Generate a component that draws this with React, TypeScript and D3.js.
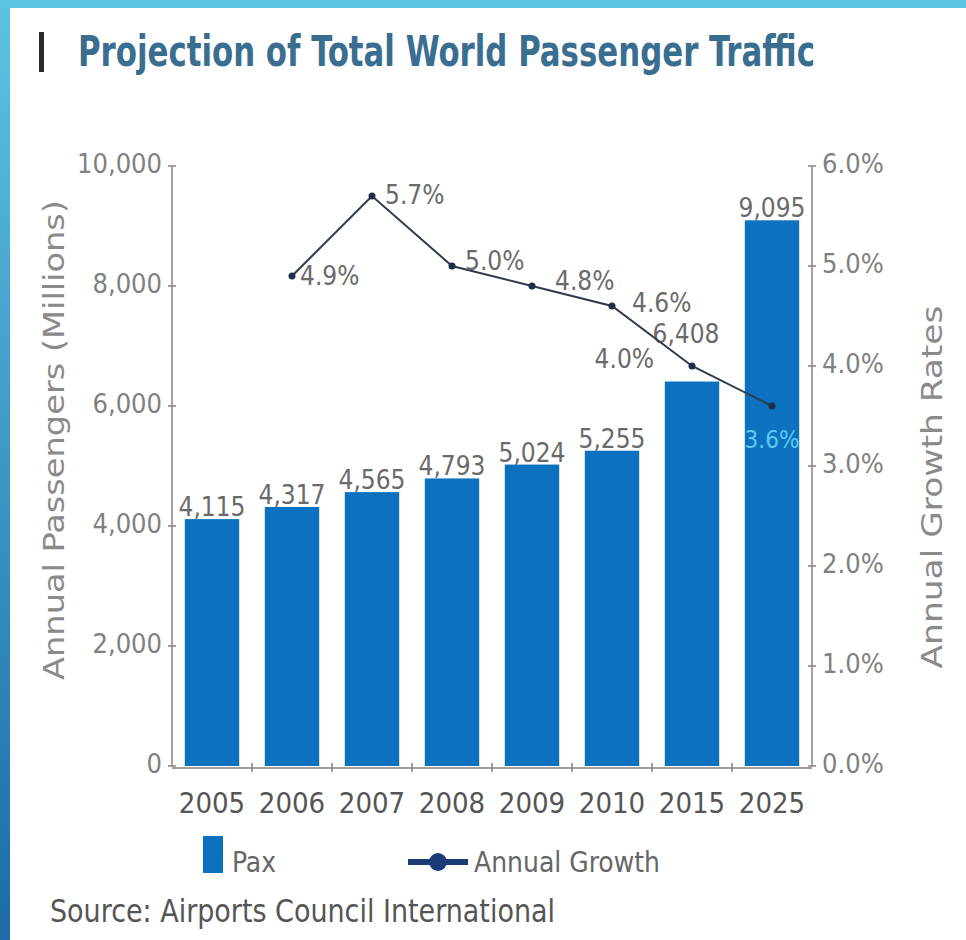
import React from "react"
import * as d3 from "d3"

const years = ["2005", "2006", "2007", "2008", "2009", "2010", "2015", "2025"]
const pax = [4115, 4317, 4565, 4793, 5024, 5255, 6408, 9095]
const growth: (number | null)[] = [null, 4.9, 5.7, 5.0, 4.8, 4.6, 4.0, 3.6]
const paxTicks = [0, 2000, 4000, 6000, 8000, 10000]
const growthTicks = [0, 1, 2, 3, 4, 5, 6]

// label nudges (layout only)
const paxLabelShift: Record<string, [number, number]> = { "2015": [-6, -36] }
const growthLabelShift: [number, number, string][] = [
  [0, 0, "start"],
  [8, 9, "start"],
  [13, 8, "start"],
  [13, 4, "start"],
  [23, 4, "start"],
  [20, 6, "start"],
  [-38, 2, "end"],
  [0, 42, "middle"],
]

const W = 966
const H = 940
const left = 172
const right = 812
const top = 166
const bottom = 766
const font = "'Liberation Sans Narrow', 'DejaVu Sans Condensed', 'Roboto Condensed', sans-serif"

export default function App() {
  const x = d3.scaleBand().domain(years).range([left, right]).paddingInner(0.32).paddingOuter(0.16)
  const yL = d3.scaleLinear().domain([0, 10000]).range([bottom, top])
  const yR = d3.scaleLinear().domain([0, 6]).range([bottom, top])
  const fmt = d3.format(",")
  const cx = (y: string) => (x(y) ?? 0) + x.bandwidth() / 2

  const pts = years
    .map((y, i) => ({ y, g: growth[i], i }))
    .filter((d) => d.g !== null) as { y: string; g: number; i: number }[]
  const line = d3.line<{ y: string; g: number }>().x((d) => cx(d.y)).y((d) => yR(d.g))

  const step = x.step()
  const boundaries = years.slice(0, -1).map((y) => cx(y) + step / 2)
  const titleScale = 0.82

  return (
    <div style={{ position: "absolute", left: 0, top: 0 }}>
      <svg width={W} height={H} style={{ display: "block", background: "#fff" }} fontFamily={font}>
        <defs>
          <linearGradient id="side" x1="0" y1="0" x2="0" y2="1">
            <stop offset="0" stopColor="#5cc3e3" />
            <stop offset="1" stopColor="#1c6ba6" />
          </linearGradient>
        </defs>
        <rect x={0} y={0} width={W} height={H} fill="#fff" />
        <rect x={0} y={0} width={W} height={8} fill="#5cc3e3" />
        <rect x={0} y={0} width={10} height={H} fill="url(#side)" />

        {/* title */}
        <rect x={39} y={32} width={5} height={40} fill="#2b2b2b" />
        <text
          transform={`translate(78,66) scale(${titleScale},1)`}
          fontSize={42}
          fontWeight="bold"
          fill="#3a6e90"
          textLength={737 / titleScale}
          lengthAdjust="spacingAndGlyphs"
        >
          Projection of Total World Passenger Traffic
        </text>

        {/* bars */}
        {years.map((y, i) => (
          <rect key={y} x={x(y)} y={yL(pax[i])} width={x.bandwidth()} height={bottom - yL(pax[i])} fill="#0c72c0" />
        ))}

        {/* left axis */}
        <line x1={left} x2={left} y1={top} y2={bottom} stroke="#8a817c" strokeWidth={1.5} />
        {paxTicks.map((t) => (
          <g key={t}>
            <line x1={left - 4} x2={left + 4} y1={yL(t)} y2={yL(t)} stroke="#8a817c" strokeWidth={1.5} />
            <text x={left - 10} y={yL(t) - 3} textAnchor="end" dominantBaseline="central" fontSize={27} fill="#808080">
              {fmt(t)}
            </text>
          </g>
        ))}

        {/* right axis */}
        <line x1={right} x2={right} y1={top} y2={bottom} stroke="#8a817c" strokeWidth={1.5} />
        {growthTicks.map((t) => (
          <g key={t}>
            <line x1={right - 4} x2={right + 4} y1={yR(t)} y2={yR(t)} stroke="#8a817c" strokeWidth={1.5} />
            <text x={right + 10} y={yR(t) - 3} dominantBaseline="central" fontSize={27} fill="#808080">
              {t.toFixed(1)}%
            </text>
          </g>
        ))}

        {/* x axis */}
        <line x1={left} x2={right} y1={bottom + 2} y2={bottom + 2} stroke="#8a817c" strokeWidth={1.5} />
        {boundaries.map((b, i) => (
          <line key={i} x1={b} x2={b} y1={bottom - 3} y2={bottom + 6} stroke="#8a817c" strokeWidth={1.5} />
        ))}
        {years.map((y) => (
          <text key={y} x={cx(y)} y={813} textAnchor="middle" fontSize={29} fill="#555">
            {y}
          </text>
        ))}

        {/* bar value labels */}
        {years.map((y, i) => {
          const [dx, dy] = paxLabelShift[y] ?? [0, 0]
          return (
            <text key={y} x={cx(y) + dx} y={yL(pax[i]) - 3 + dy} textAnchor="middle" fontSize={26} fill="#6a6a6a">
              {fmt(pax[i])}
            </text>
          )
        })}

        {/* growth line */}
        <path d={line(pts) ?? ""} fill="none" stroke="#2f3a4c" strokeWidth={2} />
        {pts.map((d) => (
          <circle key={d.y} cx={cx(d.y)} cy={yR(d.g)} r={3.5} fill="#1f2e48" />
        ))}
        {pts.map((d) => {
          const [dx, dy, anchor] = growthLabelShift[d.i]
          const inside = d.y === "2025"
          return (
            <text
              key={d.y}
              x={cx(d.y) + dx}
              y={yR(d.g) + dy}
              textAnchor={anchor as any}
              fontSize={inside ? 24 : 26}
              fill={inside ? "#5ccaf2" : "#6a6a6a"}
            >
              {d.g.toFixed(1)}%
            </text>
          )
        })}

        {/* axis titles */}
        <text transform="translate(64,440) rotate(-90)" textAnchor="middle" fontSize={29} fill="#8a8a8a" textLength={480} lengthAdjust="spacingAndGlyphs">
          Annual Passengers (Millions)
        </text>
        <text transform="translate(942,487) rotate(-90)" textAnchor="middle" fontSize={29} fill="#8a8a8a" textLength={363} lengthAdjust="spacingAndGlyphs">
          Annual Growth Rates
        </text>

        {/* legend */}
        <rect x={203} y={836} width={20} height={37} fill="#0c72c0" />
        <text x={232} y={872} fontSize={29} fill="#666" textLength={44} lengthAdjust="spacingAndGlyphs">
          Pax
        </text>
        <line x1={408} x2={468} y1={862} y2={862} stroke="#1a3a78" strokeWidth={6} />
        <circle cx={438} cy={862} r={9} fill="#1a3a78" />
        <text x={474} y={872} fontSize={29} fill="#666" textLength={186} lengthAdjust="spacingAndGlyphs">
          Annual Growth
        </text>

        {/* source */}
        <text x={50} y={922} fontSize={32} fill="#555" textLength={505} lengthAdjust="spacingAndGlyphs">
          Source: Airports Council International
        </text>
      </svg>
    </div>
  )
}
